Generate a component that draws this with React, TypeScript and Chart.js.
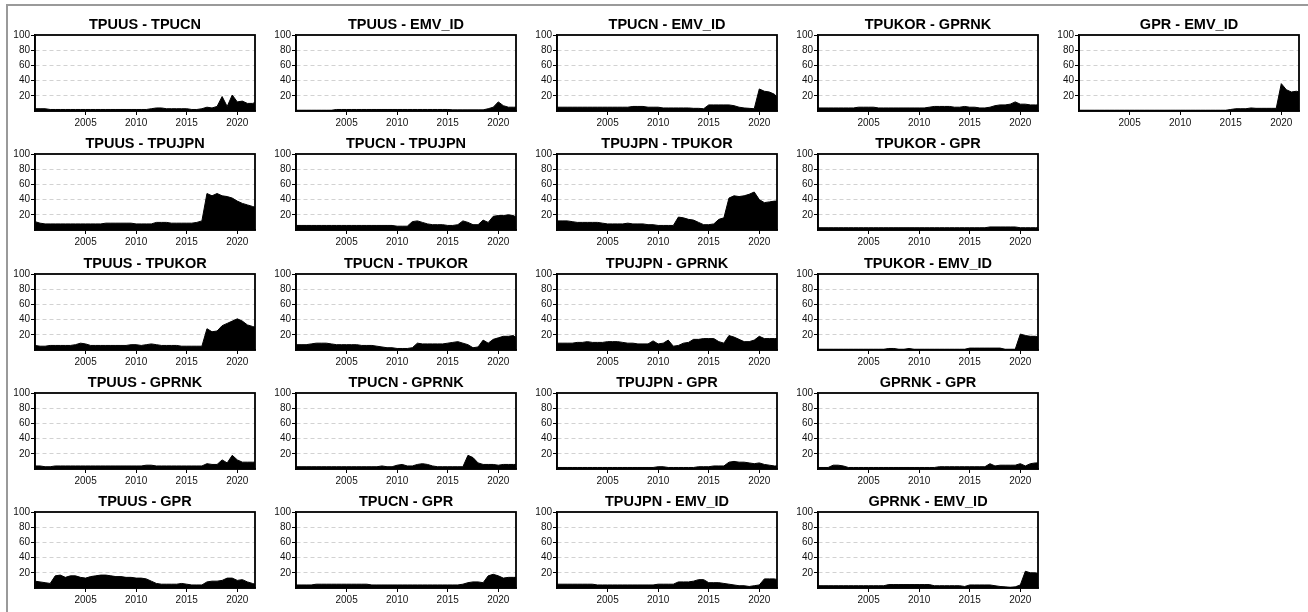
import React, { useEffect, useRef } from 'react';
import { Chart, registerables } from 'chart.js';

Chart.register(...registerables);

// Half-year sampling dates (decimal years)
const YEARS = [
  2000, 2000.5, 2001, 2001.5, 2002, 2002.5, 2003, 2003.5, 2004, 2004.5,
  2005, 2005.5, 2006, 2006.5, 2007, 2007.5, 2008, 2008.5, 2009, 2009.5,
  2010, 2010.5, 2011, 2011.5, 2012, 2012.5, 2013, 2013.5, 2014, 2014.5,
  2015, 2015.5, 2016, 2016.5, 2017, 2017.5, 2018, 2018.5, 2019, 2019.5,
  2020, 2020.5, 2021, 2021.5, 2021.75,
];
const X_TICKS = [2005, 2010, 2015, 2020];
const Y_TICKS = [20, 40, 60, 80, 100];

const TPUUS_TPUCN = [
  3, 3, 3, 2, 2, 2, 2, 2, 2, 2,
  2, 2, 2, 2, 2, 2, 2, 2, 2, 2,
  2, 2, 2, 3, 4, 4, 3, 3, 3, 3,
  3, 2, 2, 3, 5, 4, 6, 19, 6, 21,
  12, 13, 10, 10, 11,
];
const TPUUS_EMV_ID = [
  1, 1, 1, 1, 1, 1, 1, 1, 2, 2,
  2, 2, 2, 2, 2, 2, 2, 2, 2, 2,
  2, 2, 2, 2, 2, 2, 2, 2, 2, 2,
  2, 1.5, 1.5, 1.5, 1.5, 1.5, 1.5, 1.5, 3, 5,
  12, 7, 5, 5, 5,
];
const TPUCN_EMV_ID = [
  5, 5, 5, 5, 5, 5, 5, 5, 5, 5,
  5, 5, 5, 5, 5, 6, 6, 6, 5, 5,
  5, 4, 4, 4, 4, 4, 4, 3.5, 3.5, 3,
  8, 8, 8, 8, 8, 7, 5, 4, 3.5, 3,
  29, 26, 25, 22, 18,
];
const TPUKOR_GPRNK = [
  4, 4, 4, 4, 4, 4, 4, 4, 5, 5,
  5, 5, 4, 4, 4, 4, 4, 4, 4, 4,
  4, 4, 5, 6, 6, 6, 6, 5, 5, 6,
  5, 5, 4, 4, 5, 7, 8, 8, 9, 12,
  9, 9, 8, 8, 8,
];
const GPR_EMV_ID = [
  1, 1, 1, 1, 1, 1, 1, 1, 1, 1,
  1, 1, 1, 1, 1, 1, 1, 1, 1, 1,
  1, 1, 1, 1, 1, 1, 1, 1, 1, 1,
  2, 3, 3, 3, 4, 3.5, 3.5, 3.5, 3.5, 3.5,
  36, 28, 25, 26, 25,
];
const TPUUS_TPUJPN = [
  11, 9, 8, 8, 8, 8, 8, 8, 8, 8,
  8, 8, 8, 8, 9, 9, 9, 9, 9, 9,
  8, 8, 8, 8, 10, 10, 10, 9, 9, 9,
  9, 9, 10, 12, 48, 45, 48, 45, 44, 42,
  38, 35, 33, 31, 30,
];
const TPUCN_TPUJPN = [
  6, 6, 6, 6, 6, 6, 6, 6, 6, 6,
  6, 6, 6, 6, 6, 6, 6, 6, 6, 6,
  5, 5, 5, 11, 12, 10, 8, 7, 7, 7,
  6, 6, 7, 12, 10, 7, 7, 13, 10, 18,
  19, 19, 20, 19, 17,
];
const TPUJPN_TPUKOR = [
  12, 12, 12, 11, 10, 10, 10, 10, 10, 9,
  8, 8, 8, 8, 9, 8, 8, 8, 7, 7,
  6, 6, 6, 6, 17, 16, 14, 13, 10, 7,
  7, 8, 14, 16, 42, 45, 44, 45, 47, 50,
  40, 36, 37, 38, 38,
];
const TPUKOR_GPR = [
  3, 3, 3, 3, 3, 3, 3, 3, 3, 3,
  3, 3, 3, 3, 3, 3, 3, 3, 3, 3,
  3, 3, 3, 3, 3, 3, 3, 3, 3, 3,
  3, 3, 3, 3, 4, 4, 4, 4, 4, 4,
  3, 3, 3, 3, 3,
];
const TPUUS_TPUKOR = [
  6, 5, 5, 6, 6, 6, 6, 6, 7, 9,
  8, 6, 6, 6, 6, 6, 6, 6, 6, 7,
  7, 6, 7, 8, 7, 6, 6, 6, 6, 5,
  5, 5, 5, 5, 28, 24, 25, 32, 35, 38,
  41, 38, 33, 31, 30,
];
const TPUCN_TPUKOR = [
  7, 7, 7, 8, 9, 9, 9, 8, 7, 7,
  7, 7, 7, 6, 6, 6, 5, 4, 3, 3,
  2, 2, 2, 3, 9, 8, 8, 8, 8, 8,
  9, 10, 11, 9, 7, 3, 4, 13, 9, 14,
  16, 18, 18, 19, 16,
];
const TPUJPN_GPRNK = [
  9, 9, 9, 9, 10, 10, 11, 10, 10, 10,
  11, 11, 11, 10, 9, 9, 8, 8, 8, 12,
  8, 9, 13, 5, 6, 9, 10, 14, 14, 15,
  15, 15, 11, 9, 19, 17, 14, 11, 11, 13,
  18, 15, 15, 15, 15,
];
const TPUKOR_EMV_ID = [
  1, 1, 1, 1, 1, 1, 1, 1, 1, 1,
  1, 1, 1, 1, 2, 2, 1, 1, 2, 1,
  1, 1, 1, 1, 1, 1, 1, 1, 1, 1,
  2.5, 2.5, 2.5, 2.5, 2.5, 2.5, 2.5, 1, 1, 1,
  21, 19, 18, 18, 17,
];
const TPUUS_GPRNK = [
  4, 4, 3, 3, 4, 4, 4, 4, 4, 4,
  4, 4, 4, 4, 4, 4, 4, 4, 4, 4,
  4, 4, 5, 5, 4, 4, 4, 4, 4, 4,
  4, 4, 4, 4, 7, 6, 6, 12, 8, 18,
  12, 9, 9, 9, 9,
];
const TPUCN_GPRNK = [
  3, 3, 3, 3, 3, 3, 3, 3, 3, 3,
  3, 3, 3, 3, 3, 3, 3, 4, 3, 3,
  5, 6, 4, 4, 6, 7, 6, 4, 3, 3,
  3, 3, 3, 3, 18, 15, 8, 6, 6, 6,
  5, 6, 6, 6, 6,
];
const TPUJPN_GPR = [
  2, 2, 2, 2, 2, 2, 2, 2, 2, 2,
  2, 2, 2, 2, 2, 2, 2, 2, 2, 2,
  3, 3, 2, 2, 2, 2, 2, 2, 3, 3,
  3, 4, 4, 4, 9, 10, 9, 9, 8, 7,
  8, 6, 5, 4, 4,
];
const GPRNK_GPR = [
  2, 2, 2, 5, 5, 4, 2, 2, 2, 2,
  2, 2, 2, 2, 2, 2, 2, 2, 2, 2,
  2, 2, 2, 2, 3, 3, 3, 3, 3, 3,
  3, 3, 3, 3, 7, 4, 5, 5, 5, 5,
  7, 4, 7, 8, 8,
];
const TPUUS_GPR = [
  9, 8, 7, 6, 16, 17, 14, 16, 16, 14,
  13, 15, 16, 17, 17, 16, 15, 15, 14, 14,
  13, 13, 12, 9, 6, 5, 5, 5, 5, 6,
  5, 4, 4, 4, 8, 9, 9, 10, 13, 13,
  10, 11, 8, 6, 5,
];
const TPUCN_GPR = [
  4, 4, 4, 4, 5, 5, 5, 5, 5, 5,
  5, 5, 5, 5, 5, 4, 4, 4, 4, 4,
  4, 4, 4, 4, 4, 4, 4, 4, 4, 4,
  4, 4, 4, 5, 7, 8, 8, 7, 16, 18,
  16, 13, 14, 14, 14,
];
const TPUJPN_EMV_ID = [
  5, 5, 5, 5, 5, 5, 5, 5, 4, 4,
  4, 4, 4, 4, 4, 4, 4, 4, 4, 4,
  5, 5, 5, 5, 8, 8, 8, 9, 11, 11,
  7, 7, 7, 6, 5, 4, 3, 3, 2, 3,
  4, 12, 12, 12, 11,
];
const GPRNK_EMV_ID = [
  3, 3, 3, 3, 3, 3, 3, 3, 3, 3,
  3, 3, 3, 3, 4.5, 4.5, 4.5, 4.5, 4.5, 4.5,
  4.5, 4.5, 4.5, 3, 3, 3, 3, 3, 3, 2,
  4, 4, 4, 4, 4, 3, 2, 1.5, 1, 1.5,
  4, 22, 20, 20, 19,
];

type PanelDef = { title: string; row: number; col: number; values: number[] };

const PANELS: PanelDef[] = [
  { title: 'TPUUS - TPUCN', row: 0, col: 0, values: TPUUS_TPUCN },
  { title: 'TPUUS - EMV_ID', row: 0, col: 1, values: TPUUS_EMV_ID },
  { title: 'TPUCN - EMV_ID', row: 0, col: 2, values: TPUCN_EMV_ID },
  { title: 'TPUKOR - GPRNK', row: 0, col: 3, values: TPUKOR_GPRNK },
  { title: 'GPR - EMV_ID', row: 0, col: 4, values: GPR_EMV_ID },
  { title: 'TPUUS - TPUJPN', row: 1, col: 0, values: TPUUS_TPUJPN },
  { title: 'TPUCN - TPUJPN', row: 1, col: 1, values: TPUCN_TPUJPN },
  { title: 'TPUJPN - TPUKOR', row: 1, col: 2, values: TPUJPN_TPUKOR },
  { title: 'TPUKOR - GPR', row: 1, col: 3, values: TPUKOR_GPR },
  { title: 'TPUUS - TPUKOR', row: 2, col: 0, values: TPUUS_TPUKOR },
  { title: 'TPUCN - TPUKOR', row: 2, col: 1, values: TPUCN_TPUKOR },
  { title: 'TPUJPN - GPRNK', row: 2, col: 2, values: TPUJPN_GPRNK },
  { title: 'TPUKOR - EMV_ID', row: 2, col: 3, values: TPUKOR_EMV_ID },
  { title: 'TPUUS - GPRNK', row: 3, col: 0, values: TPUUS_GPRNK },
  { title: 'TPUCN - GPRNK', row: 3, col: 1, values: TPUCN_GPRNK },
  { title: 'TPUJPN - GPR', row: 3, col: 2, values: TPUJPN_GPR },
  { title: 'GPRNK - GPR', row: 3, col: 3, values: GPRNK_GPR },
  { title: 'TPUUS - GPR', row: 4, col: 0, values: TPUUS_GPR },
  { title: 'TPUCN - GPR', row: 4, col: 1, values: TPUCN_GPR },
  { title: 'TPUJPN - EMV_ID', row: 4, col: 2, values: TPUJPN_EMV_ID },
  { title: 'GPRNK - EMV_ID', row: 4, col: 3, values: GPRNK_EMV_ID },
];

const FONT = "'Liberation Sans', Arial, Helvetica, sans-serif";
const PLOT_W = 220;
const PLOT_H = 76;
const LEFT_AX = 32;
const TOP_AX = 30;
const BOTTOM_AX = 16;
const RIGHT_PAD = 4;
const CANVAS_W = LEFT_AX + PLOT_W + RIGHT_PAD;
const CANVAS_H = TOP_AX + PLOT_H + BOTTOM_AX;
const COL_X0 = 35;
const COL_STEP = 261;
const ROW_Y0 = 35;
const ROW_STEP = 119.25;

const framePlugin = {
  id: 'frameBox',
  afterDatasetsDraw(chart: any) {
    const { ctx, chartArea: a } = chart;
    ctx.save();
    ctx.strokeStyle = '#000';
    ctx.lineWidth = 1.8;
    ctx.strokeRect(a.left, a.top, a.right - a.left, a.bottom - a.top);
    ctx.restore();
  },
};

function Panel({ p }: { p: PanelDef }) {
  const ref = useRef<HTMLCanvasElement | null>(null);
  useEffect(() => {
    if (!ref.current) return;
    const chart = new Chart(ref.current, {
      type: 'line',
      data: {
        datasets: [
          {
            data: YEARS.map((x, i) => ({ x, y: p.values[i] })),
            fill: 'origin',
            backgroundColor: '#000',
            borderColor: '#000',
            borderWidth: 1,
            pointRadius: 0,
            tension: 0,
          },
        ],
      },
      options: {
        responsive: false,
        animation: false,
        devicePixelRatio: 1,
        layout: { padding: { left: 0, right: RIGHT_PAD, top: 0, bottom: 0 } },
        plugins: {
          legend: { display: false },
          tooltip: { enabled: false },
          title: {
            display: true,
            text: p.title,
            color: '#000',
            fullSize: false,
            font: { family: FONT, size: 14.5, weight: 'bold' },
            padding: { top: 11.3, bottom: 1.3 },
          },
        },
        scales: {
          x: {
            type: 'linear',
            min: 2000,
            max: 2021.75,
            afterBuildTicks: (s: any) => {
              s.ticks = X_TICKS.map((v) => ({ value: v }));
            },
            afterFit: (s: any) => {
              s.height = BOTTOM_AX;
            },
            ticks: {
              callback: (v: any) => String(v),
              font: { family: FONT, size: 10 },
              color: '#111',
              padding: 2,
              maxRotation: 0,
              autoSkip: false,
            },
            grid: {
              drawOnChartArea: false,
              drawTicks: true,
              tickLength: 4,
              tickColor: '#000',
              tickWidth: 1,
            },
            border: { display: true, color: '#000', width: 1.5 },
          },
          y: {
            type: 'linear',
            min: 0,
            max: 100,
            afterBuildTicks: (s: any) => {
              s.ticks = Y_TICKS.map((v) => ({ value: v }));
            },
            afterFit: (s: any) => {
              s.width = LEFT_AX;
            },
            ticks: {
              font: { family: FONT, size: 10 },
              color: '#111',
              padding: 1,
            },
            grid: {
              color: (c: any) => (c.tick && c.tick.value === 100 ? 'rgba(0,0,0,0)' : '#d2d2d2'),
              lineWidth: 1,
              drawTicks: true,
              tickLength: 4,
              tickColor: '#000',
              tickWidth: 1,
              tickBorderDash: [],
            },
            border: { display: true, color: '#000', width: 1.5, dash: [4, 3] },
          },
        },
      } as any,
      plugins: [framePlugin],
    });
    return () => chart.destroy();
  }, [p]);

  const left = COL_X0 + COL_STEP * p.col - LEFT_AX;
  const top = Math.round(ROW_Y0 + ROW_STEP * p.row) - TOP_AX;
  return (
    <canvas
      ref={ref}
      width={CANVAS_W}
      height={CANVAS_H}
      style={{ position: 'absolute', left, top, width: CANVAS_W, height: CANVAS_H }}
    />
  );
}

export default function App() {
  return (
    <div
      style={{
        position: 'fixed',
        left: 0,
        top: 0,
        width: 1308,
        height: 612,
        overflow: 'hidden',
        background: '#fff',
      }}
    >
      <div
        style={{
          position: 'absolute',
          left: 6,
          top: 4,
          width: 1400,
          height: 700,
          border: '2px solid #9a9a9a',
        }}
      />
      {PANELS.map((p) => (
        <Panel key={p.title} p={p} />
      ))}
    </div>
  );
}
